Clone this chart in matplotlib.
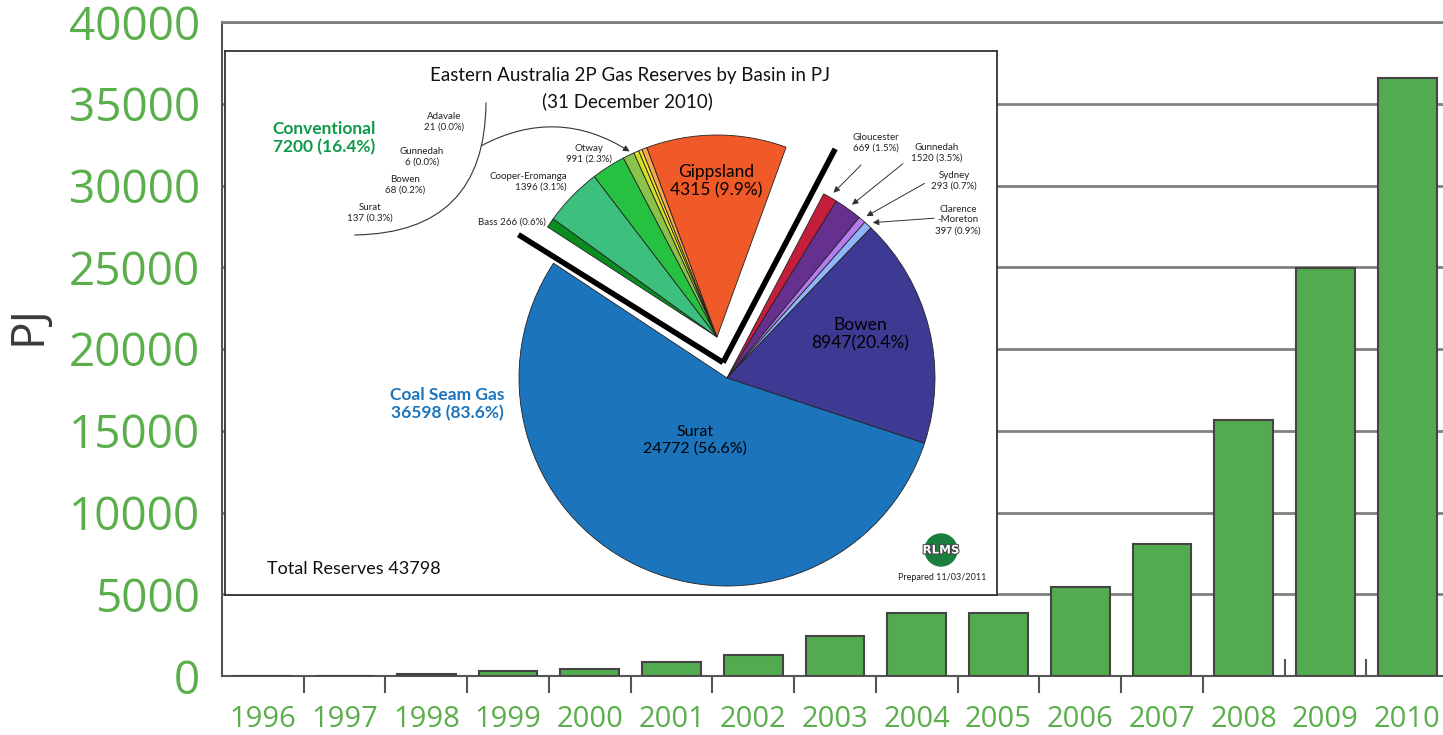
import numpy as np
import matplotlib
matplotlib.use('Agg')
from matplotlib import pyplot as plt
from matplotlib.lines import TICKUP
from matplotlib.patches import Circle
import matplotlib.patheffects as pe

# bar chart: eastern Australia coal seam gas 2P reserves (PJ)
years = [str(y) for y in range(1996, 2011)]
csg_reserves = [0, 0, 100, 300, 410, 880, 1290, 2470, 3880, 3880, 5470, 8070, 15660, 24940, 36598]
y_ticks = list(range(0, 40001, 5000))

# inset pie: 2P gas reserves by basin, 31 December 2010
csg_basins = ['Gloucester', 'Gunnedah', 'Sydney', 'Clarence\n-Moreton', 'Bowen', 'Surat']
csg_pj = [669, 1520, 293, 397, 8947, 24772]
csg_pct = [1.5, 3.5, 0.7, 0.9, 20.4, 56.6]
# wedge sweep as drawn in the original (degrees, clockwise)
csg_sweep = [4.0, 7.8, 2.0, 2.3, 64.5, 195.2]
csg_colors = ['#c41e3a', '#66308f', '#b57cf2', '#8fb4f7', '#3e3a94', '#1c75bc']

conv_basins = ['Bass', 'Cooper-Eromanga', 'Otway', 'Surat', 'Bowen', 'Gunnedah', 'Adavale', 'Gippsland']
conv_pj = [266, 1396, 991, 137, 68, 6, 21, 4315]
conv_pct = [0.6, 3.1, 2.3, 0.3, 0.2, 0.0, 0.0, 9.9]
conv_sweep = [2.8, 16.8, 9.8, 3.3, 1.5, 1.0, 1.5, 40.3]
conv_colors = ['#0b8c1f', '#3dbf7e', '#27c142', '#8bc34a', '#d6de2a', '#f2e52e', '#f7a84a', '#f05a28']

csg_total, csg_share = 36598, 83.6
conv_total, conv_share = 7200, 16.4
total_reserves = 43798

W, H = 1443, 735
GREEN = '#5aae4b'

fig = plt.figure(figsize=(W / 100, H / 100), dpi=100)

# ---- main bar chart ----
ax = fig.add_axes([222 / W, 59 / H, (1448 - 222) / W, (713 - 59) / H])
x = np.arange(len(years))
ax.bar(x, csg_reserves, width=0.72, color='#52ab4f', edgecolor='#444444', linewidth=1.5, zorder=3)
ax.set_xlim(-0.5, len(years) - 0.5)
ax.set_ylim(0, 40000)
ax.set_yticks(y_ticks)
ax.set_yticklabels([str(v) for v in y_ticks], fontfamily='Open Sans')
ax.set_xticks(x)
ax.set_xticklabels(years, fontfamily='Open Sans')
ax.set_xticks(x[:-1] + 0.5, minor=True)
ax.grid(axis='y', color='#808080', linewidth=2)
ax.set_axisbelow(True)
ax.spines['right'].set_visible(False)
ax.spines['top'].set_color('#808080')
ax.spines['top'].set_linewidth(2)
for s in ['left', 'bottom']:
    ax.spines[s].set_color('#555555')
    ax.spines[s].set_linewidth(1.5)
ax.tick_params(axis='y', length=0, pad=16, labelsize=33, labelcolor=GREEN)
ax.tick_params(axis='x', which='major', length=0, pad=21, labelsize=21, labelcolor=GREEN)
ax.tick_params(axis='x', which='minor', length=12, width=1.5, color='#555555', direction='out')
for t in ax.xaxis.get_minor_ticks()[12:]:
    t.tick1line.set_marker(TICKUP)
ax.set_ylabel('PJ', fontsize=33, color='#3b3b3b', fontfamily='Open Sans')
ax.yaxis.set_label_coords(-0.139, 0.537)

# ---- inset pie ----
def iy(y):
    return H - y

ins = fig.add_axes([225 / W, (H - 595) / H, (997 - 225) / W, (595 - 51) / H])
ins.set_facecolor('white')
wp = dict(edgecolor='#222222', linewidth=0.6)

csg_c = (727, iy(378))
conv_c = (717, iy(337))
R_csg, R_conv = 208, 202
csg_start, conv_start = 62.3, 147.0

ins.pie(np.array(csg_sweep) / 360, colors=csg_colors, startangle=csg_start, counterclock=False,
        normalize=False, center=csg_c, radius=R_csg, wedgeprops=wp, frame=True)
ins.pie(np.array(conv_sweep) / 360, colors=conv_colors, startangle=conv_start, counterclock=False,
        normalize=False, center=conv_c, radius=R_conv, wedgeprops=wp, frame=True)

ins.set_xlim(225, 997)
ins.set_ylim(iy(595), iy(51))
ins.set_aspect('auto')
ins.set_xticks([])
ins.set_yticks([])
for s in ins.spines.values():
    s.set_color('#333333')
    s.set_linewidth(1.3)

# thick separators between the conventional and coal seam gas groups
csg_end = csg_start - sum(csg_sweep)
gap_mid = np.radians((csg_start + csg_end + 360) / 2)
vx = csg_c[0] + 16 * np.cos(gap_mid)
vy = csg_c[1] + 16 * np.sin(gap_mid)
for a in (csg_start, csg_end + 360 + 1.5):
    r = np.radians(a)
    ins.plot([vx, vx + 1.16 * R_csg * np.cos(r)], [vy, vy + 1.16 * R_csg * np.sin(r)],
             color='black', lw=4, solid_capstyle='butt')

FONT = 'Lato'
ins.text(630, iy(76), 'Eastern Australia 2P Gas Reserves by Basin in PJ', ha='center', va='center',
         fontsize=13.5, fontfamily=FONT, color='#111111')
ins.text(627, iy(101), '(31 December 2010)', ha='center', va='center',
         fontsize=13.5, fontfamily=FONT, color='#111111')

def lab(name, pj, pct, sep=' '):
    return f'{name}\n{pj}{sep}({pct}%)'

# big labels inside wedges
ins.text(716, iy(181), lab(conv_basins[7], conv_pj[7], conv_pct[7]), ha='center', va='center',
         fontsize=12.5, fontfamily=FONT, linespacing=1.15)
ins.text(860, iy(334), lab(csg_basins[4], csg_pj[4], csg_pct[4], sep=''), ha='center', va='center',
         fontsize=12.5, fontfamily=FONT, linespacing=1.15)
ins.text(695, iy(440), lab(csg_basins[5], csg_pj[5], csg_pct[5]), ha='center', va='center',
         fontsize=11.5, fontfamily=FONT, linespacing=1.2)

# group labels
ins.text(324, iy(138), f'Conventional\n{conv_total} ({conv_share}%)', ha='center', va='center',
         fontsize=12.5, fontweight='bold', color='#0f9a49', fontfamily=FONT, linespacing=1.2)
ins.text(447, iy(404), f'Coal Seam Gas\n{csg_total} ({csg_share}%)', ha='center', va='center',
         fontsize=12.5, fontweight='bold', color='#1c75bc', fontfamily=FONT, linespacing=1.2)

small = dict(fontsize=7, fontfamily=FONT, color='#222222', va='center', linespacing=1.25)
ins.text(444, iy(122), lab(conv_basins[6], conv_pj[6], conv_pct[6]), ha='center', **small)
ins.text(422, iy(157), lab(conv_basins[5], conv_pj[5], conv_pct[5]), ha='center', **small)
ins.text(405, iy(185), lab(conv_basins[4], conv_pj[4], conv_pct[4]), ha='center', **small)
ins.text(370, iy(213), lab(conv_basins[3], conv_pj[3], conv_pct[3]), ha='center', **small)
ins.text(612, iy(154), lab(conv_basins[2], conv_pj[2], conv_pct[2]), ha='right', multialignment='center', **small)
ins.text(567, iy(182), lab(conv_basins[1], conv_pj[1], conv_pct[1]), ha='right', multialignment='right', **small)
ins.text(546, iy(222), f'{conv_basins[0]} {conv_pj[0]} ({conv_pct[0]}%)', ha='right', **small)

# bracket for the tiny conventional basins
ins.annotate('', xy=(352, iy(235)), xytext=(486, iy(100)),
             arrowprops=dict(arrowstyle='-', color='#333333', lw=0.8, connectionstyle='arc3,rad=-0.5'))
ins.annotate('', xy=(632, iy(153)), xytext=(479, iy(147)),
             arrowprops=dict(arrowstyle='-|>', color='#333333', lw=0.8, mutation_scale=9,
                             connectionstyle='arc3,rad=-0.3'))

# right-hand labels with arrows to the small coal seam gas wedges
right_pos = [(876, 143), (937, 153), (954, 181), (958, 220)]
text_anchor = [(863, 163), (905, 162), (927, 182), (937, 218)]
edges = csg_start - np.cumsum([0] + csg_sweep)
for i in range(4):
    mid = np.radians((edges[i] + edges[i + 1]) / 2)
    tx = csg_c[0] + (R_csg + 3) * np.cos(mid)
    ty = csg_c[1] + (R_csg + 3) * np.sin(mid)
    ins.text(right_pos[i][0], iy(right_pos[i][1]), lab(csg_basins[i], csg_pj[i], csg_pct[i]),
             ha='center', **small)
    ins.annotate('', xy=(tx, ty), xytext=(text_anchor[i][0], iy(text_anchor[i][1])),
                 arrowprops=dict(arrowstyle='-|>', color='#333333', lw=0.7, mutation_scale=9))

ins.text(267, iy(569), f'Total Reserves {total_reserves}', ha='left', va='center',
         fontsize=13, fontfamily=FONT, color='#111111')

# RLMS logo
ins.add_patch(Circle((941, iy(550)), 16, color='#1a7f3c', zorder=4))
ins.text(941, iy(550), 'RLMS', ha='center', va='center', fontsize=8.5, fontweight='bold', color='white',
         fontfamily='DejaVu Sans', zorder=5,
         path_effects=[pe.withStroke(linewidth=1.5, foreground='#444444')])
ins.text(942, iy(578), 'Prepared 11/03/2011', ha='center', va='center', fontsize=6.5,
         fontfamily=FONT, color='#222222')

fig.savefig('out.png', dpi=100)
